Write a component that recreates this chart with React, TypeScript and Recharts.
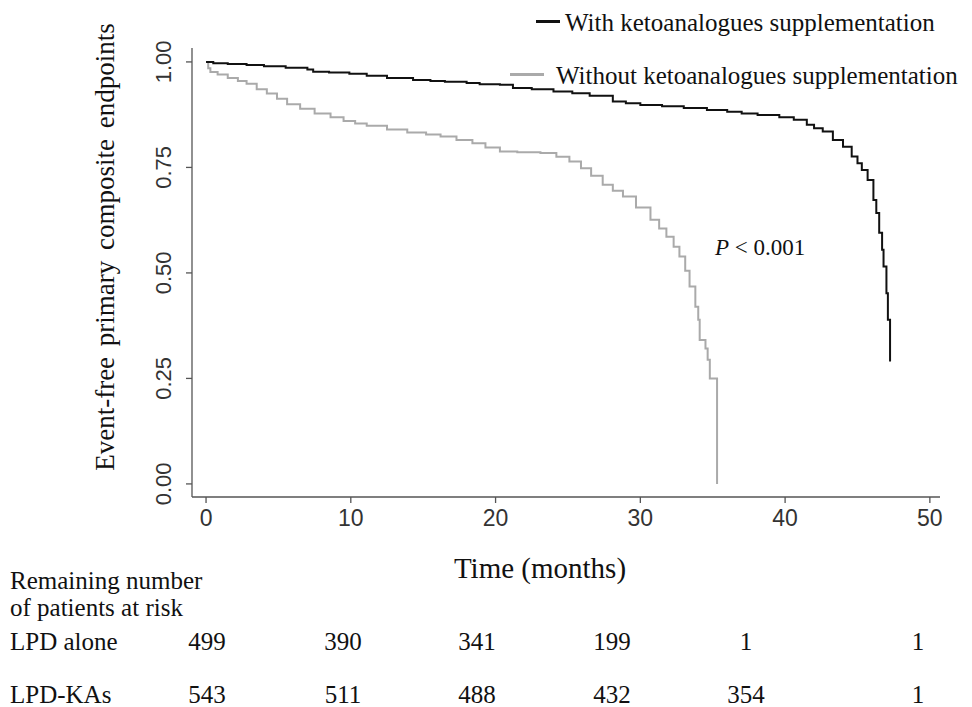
import React from "react"
import { LineChart, Line, XAxis, YAxis } from "recharts"

// Kaplan-Meier estimates: months and event-free proportion
const withKaMonths = [
  0, 0.5, 1.5, 2.8, 4, 5.5, 7.0, 7.4, 8.5, 9.9, 11.1, 12.5, 14.3, 15.5, 16.5, 18.0,
  18.9, 20.3, 21.2, 22.5, 24, 25.3, 26.5, 28.1, 29, 30.0, 31.5, 33, 34.6, 36, 37,
  38.1, 39.6, 40.6, 41.5, 42.0, 42.6, 43.3, 44.0, 44.6, 45.0, 45.3, 45.7, 46.1,
  46.3, 46.5, 46.7, 46.8, 47.0, 47.1, 47.25,
]
const withKaSurvival = [
  1.0, 0.997, 0.995, 0.993, 0.99, 0.986, 0.982, 0.977, 0.975, 0.972, 0.967, 0.962,
  0.957, 0.955, 0.953, 0.95, 0.947, 0.946, 0.938, 0.935, 0.93, 0.926, 0.92, 0.906,
  0.902, 0.898, 0.895, 0.891, 0.886, 0.882, 0.878, 0.874, 0.869, 0.863, 0.851,
  0.843, 0.835, 0.815, 0.799, 0.776, 0.76, 0.744, 0.72, 0.673, 0.642, 0.595, 0.555,
  0.515, 0.452, 0.389, 0.29,
]

const withoutKaMonths = [
  0, 0.15, 0.3, 0.8, 1.5, 2.2, 2.8, 3.5, 4.2, 4.9, 5.6, 6.5, 7.5, 8.6, 9.5, 10.3,
  11.1, 12.5, 13.9, 15.2, 16.2, 17.3, 18.4, 19.3, 20.3, 21.5, 23.1, 24.2, 25.1,
  25.9, 26.6, 27.4, 28.1, 28.8, 29.7, 30.7, 31.3, 31.8, 32.3, 32.7, 33.1, 33.4,
  33.8, 34.0, 34.1, 34.5, 34.65, 34.8, 35.3,
]
const withoutKaSurvival = [
  1.0, 0.985, 0.976, 0.97, 0.962, 0.955, 0.948, 0.935, 0.925, 0.913, 0.9, 0.889,
  0.878, 0.869, 0.86, 0.854, 0.849, 0.84, 0.833, 0.828, 0.823, 0.815, 0.807, 0.797,
  0.788, 0.786, 0.784, 0.775, 0.764, 0.748, 0.73, 0.709, 0.695, 0.681, 0.655, 0.626,
  0.605, 0.586, 0.562, 0.539, 0.505, 0.468, 0.42, 0.389, 0.341, 0.321, 0.294, 0.25, 0.0,
]

const xTicks = [0, 10, 20, 30, 40, 50]
const yTicks = [0, 0.25, 0.5, 0.75, 1]

const seriesNames = ["With ketoanalogues supplementation", "Without ketoanalogues supplementation"]
const riskGroups = ["LPD alone", "LPD-KAs"]
const riskLpdAlone = [499, 390, 341, 199, 1, 1]
const riskLpdKas = [543, 511, 488, 432, 354, 1]
const pValueText = "< 0.001"

// layout
const W = 972
const H = 707
const SERIF = "'Liberation Serif', 'Times New Roman', serif"
const SANS = "'Liberation Sans', Arial, sans-serif"
const riskColX = [207, 343, 477, 612, 746, 918]
const riskRowY = [641, 694]

const toPoints = (t: number[], s: number[]) => t.map((m, i) => ({ t: m, s: s[i] }))

function YTick({ x, y, payload }: any) {
  return (
    <text
      transform={`translate(${x - 13},${y}) rotate(-90)`}
      textAnchor="middle"
      fontSize={22}
      fontFamily={SANS}
      fill="#333"
    >
      {Number(payload.value).toFixed(2)}
    </text>
  )
}

function Txt({ x, y, size = 25, anchor = "left", children, style }: any) {
  const shift = anchor === "center" ? "-50%" : "0"
  return (
    <div
      style={{
        position: "absolute", left: x, top: y, transform: `translate(${shift},-50%)`,
        fontFamily: SERIF, fontSize: size, lineHeight: 1, whiteSpace: "nowrap", color: "#111",
        ...style,
      }}
    >
      {children}
    </div>
  )
}

export default function App() {
  const withKa = toPoints(withKaMonths, withKaSurvival)
  const withoutKa = toPoints(withoutKaMonths, withoutKaSurvival)

  return (
    <div style={{ position: "absolute", left: 0, top: 0, width: W, height: H, background: "#fff", overflow: "hidden" }}>
      <LineChart width={W} height={H} margin={{ top: 48, right: 32, bottom: 170, left: 132 }}>
        <XAxis
          type="number"
          dataKey="t"
          domain={[-0.97, 50.7]}
          ticks={xTicks}
          allowDataOverflow
          height={40}
          tickSize={6}
          tickMargin={7}
          stroke="#555"
          strokeWidth={1.3}
          tick={{ fill: "#333", fontSize: 23, fontFamily: SANS }}
        />
        <YAxis
          type="number"
          dataKey="s"
          domain={[-0.031, 1.033]}
          ticks={yTicks}
          allowDataOverflow
          width={60}
          tickSize={6}
          stroke="#555"
          strokeWidth={1.3}
          tick={<YTick />}
        />
        <Line
          data={withoutKa}
          dataKey="s"
          type="stepAfter"
          stroke="#aaaaaa"
          strokeWidth={2}
          dot={false}
          isAnimationActive={false}
        />
        <Line
          data={withKa}
          dataKey="s"
          type="stepAfter"
          stroke="#111111"
          strokeWidth={2}
          dot={false}
          isAnimationActive={false}
        />
      </LineChart>

      {/* legend */}
      <div style={{ position: "absolute", left: 536, top: 20, width: 24, height: 2.5, background: "#111" }} />
      <Txt x={565} y={22}>{seriesNames[0]}</Txt>
      <div style={{ position: "absolute", left: 510, top: 73, width: 34, height: 2.5, background: "#aaa" }} />
      <Txt x={556} y={75}>{seriesNames[1]}</Txt>

      <Txt x={715} y={247} size={23}>
        <i>P</i> {pValueText}
      </Txt>

      {/* axis titles */}
      <Txt x={105} y={247} size={27} anchor="center" style={{ transform: "translate(-50%,-50%) rotate(-90deg)", wordSpacing: 4 }}>
        Event-free primary composite endpoints
      </Txt>
      <Txt x={540} y={568} size={29} anchor="center">Time (months)</Txt>

      {/* number at risk */}
      <Txt x={10} y={580}>Remaining number</Txt>
      <Txt x={10} y={607}>of patients at risk</Txt>
      {riskGroups.map((g, r) => (
        <React.Fragment key={g}>
          <Txt x={10} y={riskRowY[r]}>{g}</Txt>
          {(r === 0 ? riskLpdAlone : riskLpdKas).map((n, i) => (
            <Txt key={i} x={riskColX[i]} y={riskRowY[r]} anchor="center">{n}</Txt>
          ))}
        </React.Fragment>
      ))}
    </div>
  )
}
